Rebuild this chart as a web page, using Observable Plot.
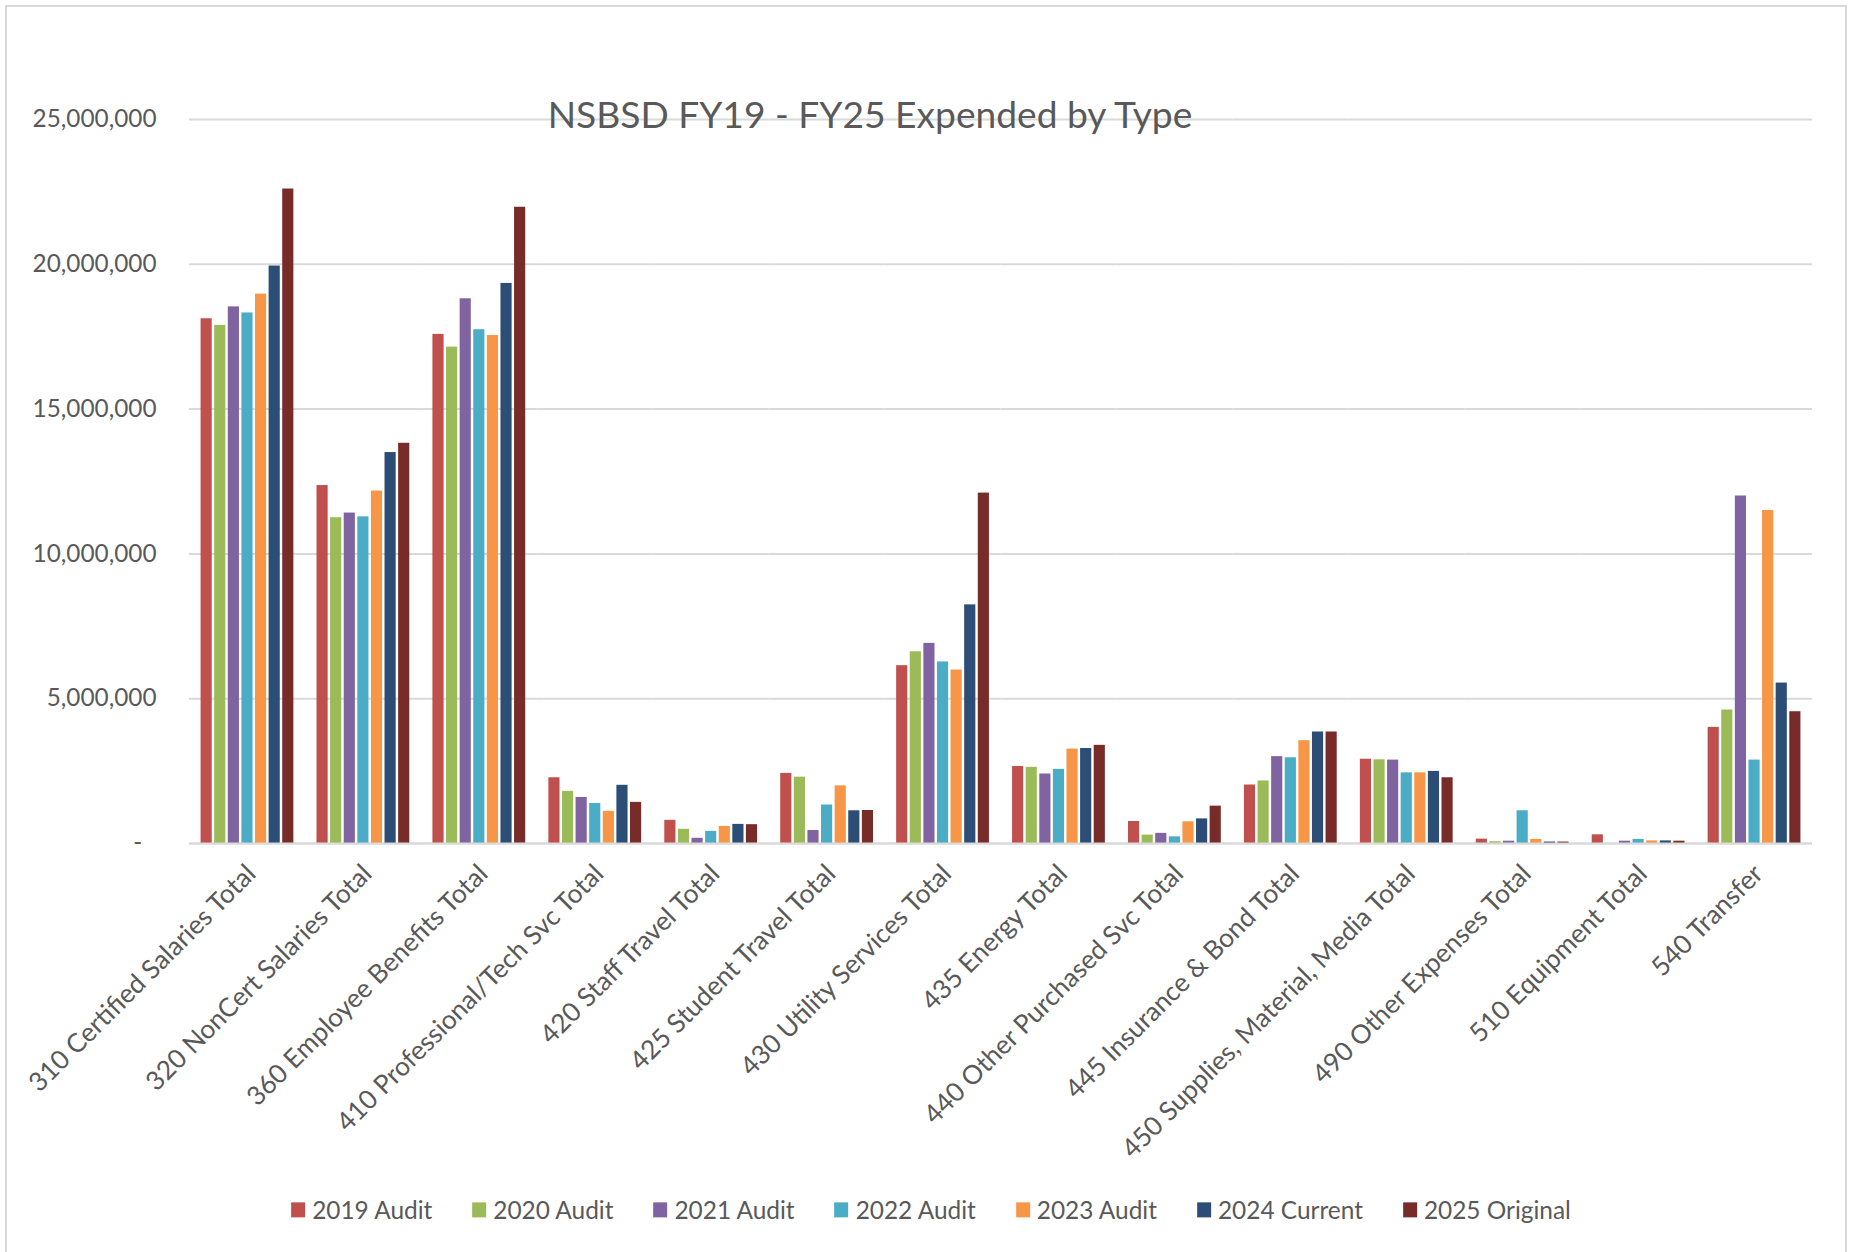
<!DOCTYPE html>
<html>
<head>
<meta charset="utf-8">
<script src="https://cdn.jsdelivr.net/npm/d3@7"></script>
<script src="https://cdn.jsdelivr.net/npm/@observablehq/plot@0.6"></script>
<style>
  html, body { margin: 0; padding: 0; background: #fff; }
  body { width: 1849px; height: 1252px; position: relative; overflow: hidden; font-family: Lato, sans-serif; }
  #frame { position: absolute; left: 5px; top: 5px; width: 1842px; height: 1300px; border: 2px solid #d9d9d9; box-sizing: border-box; }
  #chart { position: absolute; left: 0; top: 0; }
  #title { position: absolute; left: 870px; top: 114px; transform: translate(-50%, -50%); color: #595959; white-space: nowrap; line-height: 1.2; }
  #legend { position: absolute; left: 931px; top: 1210px; transform: translate(-50%, -50%); display: flex; align-items: center; gap: 40px; color: #595959; white-space: nowrap; line-height: 1.2; }
  .item { display: flex; align-items: center; }
  .sw { width: 14px; height: 15px; margin-right: 7px; }
</style>
</head>
<body>
<div id="frame"></div>
<div id="chart"></div>
<div id="title">NSBSD FY19 - FY25 Expended by Type</div>
<div id="legend"></div>
<script>
const categories = [
  "310 Certified Salaries Total",
  "320 NonCert Salaries Total",
  "360 Employee Benefits Total",
  "410 Professional/Tech Svc Total",
  "420 Staff Travel Total",
  "425 Student Travel Total",
  "430 Utility Services Total",
  "435 Energy Total",
  "440 Other Purchased Svc Total",
  "445 Insurance & Bond Total",
  "450 Supplies, Material, Media Total",
  "490 Other Expenses Total",
  "510 Equipment Total",
  "540 Transfer"
];
const series = ["2019 Audit", "2020 Audit", "2021 Audit", "2022 Audit", "2023 Audit", "2024 Current", "2025 Original"];

const audit2019   = [18120000, 12360000, 17580000, 2270000, 800000, 2420000, 6140000, 2660000, 760000, 2020000, 2910000, 150000, 300000, 4010000];
const audit2020   = [17890000, 11250000, 17140000, 1800000, 490000, 2290000, 6620000, 2630000, 290000, 2160000, 2890000, 60000, 0, 4610000];
const audit2021   = [18530000, 11410000, 18810000, 1590000, 180000, 450000, 6910000, 2400000, 350000, 3000000, 2880000, 80000, 80000, 12000000];
const audit2022   = [18320000, 11280000, 17740000, 1380000, 420000, 1330000, 6270000, 2560000, 230000, 2960000, 2440000, 1130000, 140000, 2880000];
const audit2023   = [18970000, 12170000, 17540000, 1110000, 590000, 1990000, 5990000, 3260000, 750000, 3550000, 2440000, 140000, 90000, 11500000];
const current2024 = [19940000, 13500000, 19340000, 2010000, 660000, 1130000, 8240000, 3280000, 850000, 3850000, 2490000, 50000, 90000, 5540000];
const original2025= [22600000, 13820000, 21970000, 1420000, 650000, 1140000, 12100000, 3390000, 1290000, 3850000, 2270000, 50000, 80000, 4550000];

const yTicks = [0, 5000000, 10000000, 15000000, 20000000, 25000000];

const seriesValues = [audit2019, audit2020, audit2021, audit2022, audit2023, current2024, original2025];
const colors = ["#C0504D", "#9BBB59", "#8064A2", "#4BACC6", "#F79646", "#2C4D75", "#772C2A"];

const data = [];
categories.forEach((c, i) => {
  series.forEach((s, j) => data.push({category: c, series: s, value: seriesValues[j][i]}));
});

const FONT = "Lato, sans-serif";
const ctx = document.createElement("canvas").getContext("2d");
function fit(text, target) {
  ctx.font = "100px " + FONT;
  return 100 * target / ctx.measureText(text).width;
}
const ySize = fit("25,000,000", 124);
const xSize = fit("310 Certified Salaries Total", 309);
const legendSize = fit("2019 Audit", 121);
const titleSize = fit("NSBSD FY19 - FY25 Expended by Type", 647);

const W = 1849, H = 1175;
const plot = Plot.plot({
  width: W,
  height: H,
  marginLeft: 189,
  marginRight: 37,
  marginTop: 119,
  marginBottom: H - 843,
  style: {fontFamily: FONT, fontSize: ySize + "px", color: "#595959", background: "transparent"},
  fx: {domain: categories, padding: 0, round: false, label: null, tickRotate: -45, tickSize: 0, tickPadding: 20, axis: "bottom"},
  x: {domain: series, paddingInner: 0.18, paddingOuter: 0.85, round: false, axis: null},
  y: {domain: [0, 25000000], ticks: yTicks, tickSize: 0, tickPadding: 33, label: null,
      tickFormat: d => d === 0 ? "-\u2007" : d3.format(",")(d)},
  color: {domain: series, range: colors},
  marks: [
    Plot.ruleY(yTicks, {stroke: "#d9d9d9", strokeWidth: 2}),
    Plot.barY(data, {fx: "category", x: "series", y: "value", fill: "series"}),
    Plot.ruleY([0], {stroke: "#d9d9d9", strokeWidth: 2})
  ]
});
document.getElementById("chart").appendChild(plot);

// size and nudge the facet (category) labels
plot.querySelectorAll('[aria-label^="fx-axis"]').forEach(g => {
  if (g.querySelector("text")) {
    const tr = g.getAttribute("transform") || "";
    g.setAttribute("transform", (tr + " translate(4,6)").trim());
    g.querySelectorAll("text").forEach(t => t.style.fontSize = xSize + "px");
  }
});

document.getElementById("title").style.fontSize = titleSize + "px";
const legend = document.getElementById("legend");
legend.style.fontSize = legendSize + "px";
series.forEach((s, j) => {
  const item = document.createElement("div");
  item.className = "item";
  const sw = document.createElement("div");
  sw.className = "sw";
  sw.style.background = colors[j];
  const label = document.createElement("span");
  label.textContent = s;
  item.appendChild(sw);
  item.appendChild(label);
  legend.appendChild(item);
});
</script>
</body>
</html>
